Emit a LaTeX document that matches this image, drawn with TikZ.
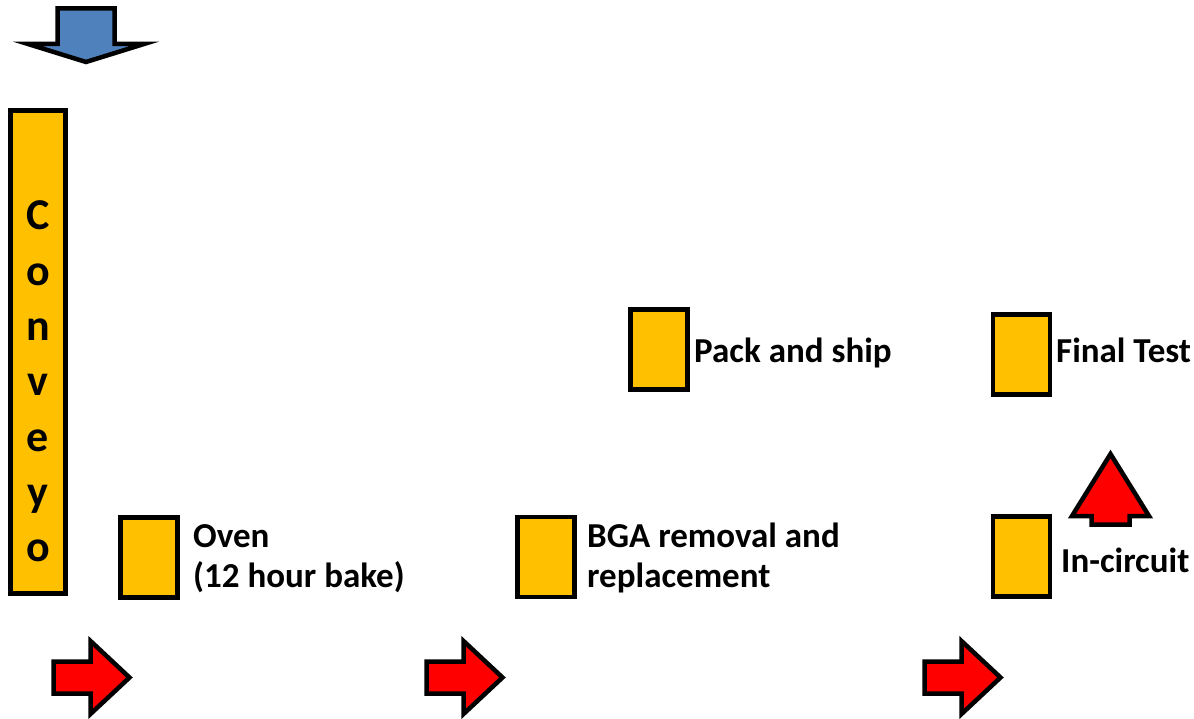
\documentclass[tikz,border=0pt]{standalone}
\usepackage{fontspec}
\setmainfont{Carlito}
\definecolor{boxfill}{HTML}{FFC000}
\definecolor{arrowblue}{HTML}{4F81BD}
\definecolor{arrowred}{HTML}{FF0000}
\begin{document}
\begin{tikzpicture}[x=1pt,y=-1pt,
  station/.style={draw=black, line width=4.5pt, fill=boxfill, inner sep=0pt,
    minimum width=57pt, minimum height=80pt},
  lbl/.style={font=\fontsize{35}{40}\selectfont\bfseries, anchor=base west, inner sep=0pt},
  convletter/.style={font=\fontsize{44}{50}\selectfont\bfseries, anchor=base, inner sep=0pt},
  redarrow/.style={draw=black, line width=4.5pt, fill=arrowred, line join=miter},
  bluearrow/.style={draw=black, line width=4.5pt, fill=arrowblue, line join=miter}]
\useasboundingbox (0,0) rectangle (1194,719);

% top blue arrow
\draw[bluearrow] (57.5,8.5) -- (114.5,8.5) -- (114.5,44) -- (144,44) -- (86,62)
  -- (28,44) -- (57.5,44) -- cycle;

% conveyor
\node[draw=black, line width=4.5pt, fill=boxfill, inner sep=0pt,
  minimum width=55pt, minimum height=483pt] (conv) at (38,352) {};
\foreach \l [count=\i] in {C,o,n,v,e,y,o}
  \node[convletter] (cl\i) at (38,{230+55.3*(\i-1)}) {\l};

% stations
\node[station] (oven) at (149,557.5) {};
\node[station] (bga) at (546,557) {};
\node[station] (pack) at (659,349.5) {};
\node[station] (final) at (1021.5,354.5) {};
\node[station] (incirc) at (1021.5,556.5) {};

% labels
\node[lbl] (ovenA) at (193,547) {Oven};
\node[lbl] (ovenB) at (193,587) {(12 hour bake)};
\node[lbl] (bgaA) at (587,547) {BGA removal and};
\node[lbl] (bgaB) at (587,587) {replacement};
\node[lbl] (packL) at (694,362) {Pack and ship};
\node[lbl] (finalL) at (1056,362) {Final Test};
\node[lbl] (incircL) at (1061,572) {In-circuit};

% red right arrows
\foreach \x in {51,424,922}{
  \begin{scope}[shift={(\x,677.5)}]
    \draw[redarrow] (2.5,-16) -- (39.5,-16) -- (39.5,-36.5) -- (78.5,0)
      -- (39.5,36.5) -- (39.5,16) -- (2.5,16) -- cycle;
  \end{scope}
}

% red up arrow
\draw[redarrow] (1091.5,524.5) -- (1091.5,516) -- (1072,516) -- (1110.5,454)
  -- (1149,516) -- (1129.5,516) -- (1129.5,524.5) -- cycle;
\end{tikzpicture}
\end{document}
